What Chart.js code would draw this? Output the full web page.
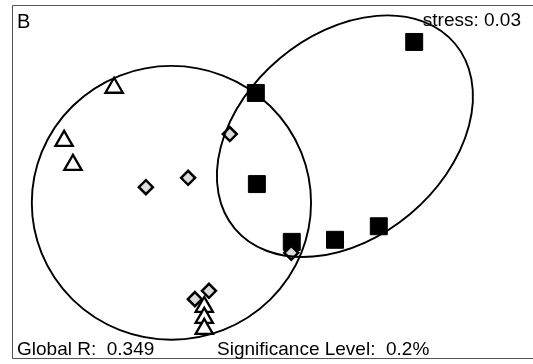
<!DOCTYPE html>
<html>
<head>
<meta charset="utf-8">
<script src="https://cdn.jsdelivr.net/npm/chart.js@4"></script>
<style>
  body { margin: 0; background: #fff; }
  canvas { display: block; }
</style>
</head>
<body>
<canvas id="mdsChart" width="533" height="364"></canvas>
<script>
// MDS ordination, arbitrary units (x 0-100, y 0-68)
const triangleX = [19.6, 10.0, 11.7, 36.9, 36.9, 36.9];
const triangleY = [52.1, 41.9, 37.3, 10.0, 7.9, 5.8];

const diamondX = [41.8, 33.8, 25.7, 35.1, 37.8, 53.6];
const diamondY = [43.2, 34.8, 33.0, 11.5, 13.1, 20.4];

const squareX = [46.8, 77.2, 47.0, 53.7, 62.0, 70.4];
const squareY = [51.1, 60.9, 33.6, 22.5, 22.9, 25.5];

// ellipses: centre x, centre y, semi axis a, semi axis b, angle (deg)
const ellipseLeft = [30.6, 30.0, 26.8, 26.3, 0];
const ellipseRight = [63.9, 42.8, 27.6, 19.5, 40];

const panelLabel = "B";
const stressLabel = "stress: 0.03";
const globalRLabel = "Global R:  0.349";
const significanceLabel = "Significance Level:  0.2%";

function toPoints(xs, ys) {
    return xs.map((x, i) => ({ x: x, y: ys[i] }));
}

// frame around the plot (no right edge in the original)
const framePlugin = {
    id: "frame",
    beforeDatasetsDraw(chart) {
        const ctx = chart.ctx;
        const a = chart.chartArea;
        ctx.save();
        ctx.strokeStyle = "#555";
        ctx.lineWidth = 1;
        ctx.beginPath();
        ctx.moveTo(a.right, a.top + 0.5);
        ctx.lineTo(a.left + 0.5, a.top + 0.5);
        ctx.lineTo(a.left + 0.5, a.bottom - 0.5);
        ctx.lineTo(a.right, a.bottom - 0.5);
        ctx.stroke();
        ctx.restore();
    }
};

const ellipsePlugin = {
    id: "ellipses",
    afterDatasetsDraw(chart) {
        const ctx = chart.ctx;
        const xs = chart.scales.x;
        const ys = chart.scales.y;
        ctx.save();
        ctx.strokeStyle = "#000";
        ctx.lineWidth = 1.9;
        [ellipseLeft, ellipseRight].forEach(e => {
            const cx = xs.getPixelForValue(e[0]);
            const cy = ys.getPixelForValue(e[1]);
            const rx = Math.abs(xs.getPixelForValue(e[2]) - xs.getPixelForValue(0));
            const ry = Math.abs(ys.getPixelForValue(e[3]) - ys.getPixelForValue(0));
            ctx.beginPath();
            ctx.ellipse(cx, cy, rx, ry, -e[4] * Math.PI / 180, 0, Math.PI * 2);
            ctx.stroke();
        });
        ctx.restore();
    }
};

const textPlugin = {
    id: "texts",
    afterDraw(chart) {
        const ctx = chart.ctx;
        ctx.save();
        ctx.fillStyle = "#000";
        ctx.textBaseline = "alphabetic";
        ctx.font = "20px 'Liberation Sans', Arial, sans-serif";
        ctx.fillText(panelLabel, 17, 28);
        ctx.font = "19px 'Liberation Sans', Arial, sans-serif";
        ctx.textAlign = "right";
        ctx.fillText(stressLabel, 521, 26);
        ctx.textAlign = "left";
        ctx.fillText(globalRLabel, 17, 355);
        ctx.fillText(significanceLabel, 217, 355);
        ctx.restore();
    }
};

new Chart(document.getElementById("mdsChart"), {
    type: "scatter",
    data: {
        datasets: [
            {
                label: "diamonds",
                data: toPoints(diamondX, diamondY),
                pointStyle: "rectRot",
                pointRadius: 7,
                backgroundColor: "#dcdcdc",
                borderColor: "#000",
                borderWidth: 2.5
            },
            {
                label: "triangles",
                data: toPoints(triangleX, triangleY),
                pointStyle: "triangle",
                pointRadius: 10,
                backgroundColor: "#fff",
                borderColor: "#000",
                borderWidth: 2.3
            },
            {
                label: "squares",
                data: toPoints(squareX, squareY),
                pointStyle: "rect",
                pointRadius: 12,
                backgroundColor: "#000",
                borderColor: "#000",
                borderWidth: 1
            }
        ]
    },
    options: {
        responsive: false,
        animation: false,
        devicePixelRatio: 1,
        layout: {
            autoPadding: false,
            padding: { left: 12, top: 5, right: 0, bottom: 5 }
        },
        plugins: {
            legend: { display: false },
            tooltip: { enabled: false }
        },
        scales: {
            x: { type: "linear", min: 0, max: 100, display: false },
            y: { type: "linear", min: 0, max: 68, display: false }
        }
    },
    plugins: [framePlugin, ellipsePlugin, textPlugin]
});
</script>
</body>
</html>
